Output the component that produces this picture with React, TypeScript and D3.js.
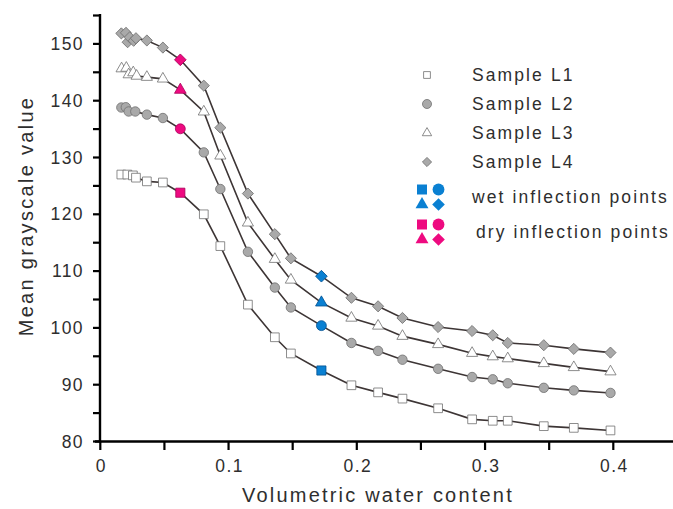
import React from "react";
import * as d3 from "d3";

const X_TICKS = [0, 0.05, 0.1, 0.15, 0.2, 0.25, 0.3, 0.35, 0.4];
const X_LABELS = [0, 0.1, 0.2, 0.3, 0.4];
const Y_TICKS = [80, 85, 90, 95, 100, 105, 110, 115, 120, 125, 130, 135, 140, 145, 150, 155];
const Y_LABELS = [80, 90, 100, 110, 120, 130, 140, 150];

const L1: [number, number][] = [
  [0.0164, 127.0], [0.0211, 127.0], [0.0254, 126.85], [0.0278, 126.45], [0.0363, 125.8], [0.0488, 125.6],
  [0.0624, 123.8], [0.0807, 120.0], [0.0936, 114.4], [0.1151, 104.1], [0.1361, 98.35], [0.1486, 95.5],
  [0.1724, 92.5], [0.1958, 89.9], [0.2166, 88.65], [0.2356, 87.55], [0.2634, 85.85], [0.2899, 83.9],
  [0.306, 83.65], [0.3177, 83.65], [0.3458, 82.7], [0.3692, 82.4], [0.3978, 81.95],
];
const L2: [number, number][] = [
  [0.0164, 138.8], [0.0199, 138.85], [0.0221, 138.1], [0.0273, 138.1], [0.0363, 137.55], [0.0488, 136.95],
  [0.0624, 135.05], [0.0807, 130.9], [0.0936, 124.45], [0.1151, 113.4], [0.1361, 107.1], [0.1486, 103.6],
  [0.1724, 100.4], [0.1958, 97.35], [0.2166, 95.95], [0.2356, 94.4], [0.2634, 92.8], [0.2899, 91.35],
  [0.306, 90.95], [0.3177, 90.25], [0.3458, 89.45], [0.3692, 89.0], [0.3978, 88.55],
];
const L3: [number, number][] = [
  [0.0166, 145.65], [0.0203, 145.75], [0.0221, 144.6], [0.0257, 144.95], [0.0283, 144.35], [0.0363, 144.15],
  [0.0488, 143.85], [0.0624, 141.9], [0.0807, 138.05], [0.0936, 130.3], [0.1151, 118.5], [0.1361, 112.1],
  [0.1486, 108.45], [0.1724, 104.45], [0.1958, 101.75], [0.2166, 100.35], [0.2356, 98.55], [0.2634, 97.1],
  [0.2899, 95.55], [0.306, 94.95], [0.3177, 94.6], [0.3458, 93.75], [0.3692, 93.05], [0.3978, 92.3],
];
const L4: [number, number][] = [
  [0.0164, 151.85], [0.02, 151.95], [0.0213, 150.3], [0.0229, 151.15], [0.026, 150.55], [0.0278, 151.0],
  [0.0363, 150.6], [0.0488, 149.35], [0.0624, 147.2], [0.0807, 142.65], [0.0936, 135.25], [0.1151, 123.65],
  [0.1361, 116.5], [0.1486, 112.25], [0.1724, 109.1], [0.1958, 105.3], [0.2166, 103.8], [0.2356, 101.75],
  [0.2634, 100.15], [0.2899, 99.45], [0.306, 98.7], [0.3177, 97.35], [0.3458, 96.95], [0.3692, 96.3],
  [0.3978, 95.65],
];
const DRY_X = 0.0624;
const WET_X = 0.1724;

const SERIES_NAMES = ["Sample L1", "Sample L2", "Sample L3", "Sample L4"];
const SERIES_DATA = [L1, L2, L3, L4];
const SERIES_SHAPES = ["square", "circle", "triangle", "diamond"];
const SERIES_FILLS = ["#ffffff", "#a9a9a9", "#ffffff", "#a9a9a9"];

const DRY_COLOR = "#ee0a80";
const WET_COLOR = "#0a80d2";
const TEXT = "#2e2e2e";
const FONT = "'Liberation Sans', Arial, sans-serif";

const x = d3.scaleLinear().domain([0, 0.4]).range([100.3, 613.3]);
const y = d3.scaleLinear().domain([80, 155]).range([441.5, 15.5]);

function symPath(shape: string, size: number): string {
  if (shape === "square") return d3.symbol(d3.symbolSquare, size)() as string;
  if (shape === "circle") return d3.symbol(d3.symbolCircle, size)() as string;
  if (shape === "triangle") return d3.symbol(d3.symbolTriangle, size)() as string;
  return d3.symbol(d3.symbolSquare, size)() as string;
}

function Marker({ shape, cx, cy, size, fill, stroke, sw }: any) {
  const rot = shape === "diamond" ? " rotate(45)" : "";
  return (
    <path
      d={symPath(shape, size)}
      transform={`translate(${cx},${cy})${rot}`}
      fill={fill}
      stroke={stroke}
      strokeWidth={sw}
    />
  );
}

const SIZES: Record<string, number> = { square: 76, circle: 70, triangle: 54, diamond: 62 };
const LEG_SIZES: Record<string, number> = { square: 46, circle: 64, triangle: 38, diamond: 42 };
const INF_SIZES: Record<string, number> = { square: 100, circle: 110, triangle: 72, diamond: 80 };

export default function App() {
  const line = d3
    .line<[number, number]>()
    .x((d) => x(d[0]))
    .y((d) => y(d[1]));

  const legendRows = [75, 104, 133, 162];
  const legX = 427;
  const textX = 472;

  return (
    <svg
      width={673}
      height={509}
      style={{ position: "absolute", left: 0, top: 0, background: "#fff" }}
      fontFamily={FONT}
    >
      {SERIES_DATA.map((s, i) => (
        <path key={"l" + i} d={line(s) as string} fill="none" stroke="#3d3535" strokeWidth={1.6} />
      ))}
      {SERIES_DATA.map((s, i) =>
        s.map((d, j) => {
          const isDry = d[0] === DRY_X;
          const isWet = d[0] === WET_X;
          const shape = SERIES_SHAPES[i];
          const fill = isDry ? DRY_COLOR : isWet ? WET_COLOR : SERIES_FILLS[i];
          const stroke = isDry ? "#a8005a" : isWet ? "#045090" : "#707070";
          return (
            <Marker
              key={"m" + i + "-" + j}
              shape={shape}
              cx={x(d[0])}
              cy={y(d[1])}
              size={isDry || isWet ? SIZES[shape] * 1.1 : SIZES[shape]}
              fill={fill}
              stroke={stroke}
              sw={0.8}
            />
          );
        })
      )}

      <line x1={100} x2={100} y1={14} y2={442.5} stroke="#000" strokeWidth={2.4} />
      <line x1={95} x2={673} y1={441.5} y2={441.5} stroke="#000" strokeWidth={2.4} />
      {Y_TICKS.map((t) => (
        <line key={"yt" + t} x1={93} x2={100} y1={y(t)} y2={y(t)} stroke="#000" strokeWidth={2.2} />
      ))}
      {X_TICKS.map((t) => (
        <line key={"xt" + t} x1={x(t)} x2={x(t)} y1={441.5} y2={450} stroke="#000" strokeWidth={2.2} />
      ))}
      {Y_LABELS.map((t) => (
        <text
          key={"yl" + t}
          x={84}
          y={y(t)}
          textAnchor="end"
          dominantBaseline="central"
          fontSize={17.5}
          letterSpacing={1.4}
          fill={TEXT}
        >
          {t}
        </text>
      ))}
      {X_LABELS.map((t) => (
        <text
          key={"xl" + t}
          x={x(t) + 1}
          y={472}
          textAnchor="middle"
          fontSize={17.5}
          letterSpacing={1.4}
          fill={TEXT}
        >
          {t === 0 ? "0" : String(t)}
        </text>
      ))}
      <text x={378} y={502} textAnchor="middle" fontSize={20} letterSpacing={2.2} fill={TEXT}>
        Volumetric water content
      </text>
      <text
        transform="translate(33,216) rotate(-90)"
        textAnchor="middle"
        fontSize={20}
        letterSpacing={2.3}
        fill={TEXT}
      >
        Mean grayscale value
      </text>

      {SERIES_NAMES.map((n, i) => (
        <g key={"lg" + i}>
          <Marker
            shape={SERIES_SHAPES[i]}
            cx={legX}
            cy={legendRows[i]}
            size={LEG_SIZES[SERIES_SHAPES[i]]}
            fill={SERIES_FILLS[i]}
            stroke="#707070"
            sw={0.8}
          />
          <text x={textX} y={legendRows[i]} dominantBaseline="central" fontSize={17.5} letterSpacing={2.1} fill={TEXT}>
            {n}
          </text>
        </g>
      ))}
      {[
        { label: "wet inflection points", color: WET_COLOR, cy: 197, tx: textX },
        { label: "dry inflection points", color: DRY_COLOR, cy: 232, tx: textX + 4 },
      ].map((r, k) => (
        <g key={"inf" + k}>
          <Marker shape="square" cx={422} cy={r.cy - 7.5} size={INF_SIZES.square} fill={r.color} stroke="none" sw={0} />
          <Marker shape="circle" cx={438.5} cy={r.cy - 7.5} size={INF_SIZES.circle} fill={r.color} stroke="none" sw={0} />
          <Marker shape="triangle" cx={422} cy={r.cy + 7.5} size={INF_SIZES.triangle} fill={r.color} stroke="none" sw={0} />
          <Marker shape="diamond" cx={438.5} cy={r.cy + 7.5} size={INF_SIZES.diamond} fill={r.color} stroke="none" sw={0} />
          <text x={r.tx} y={r.cy} dominantBaseline="central" fontSize={17.5} letterSpacing={2.1} fill={TEXT}>
            {r.label}
          </text>
        </g>
      ))}
    </svg>
  );
}
